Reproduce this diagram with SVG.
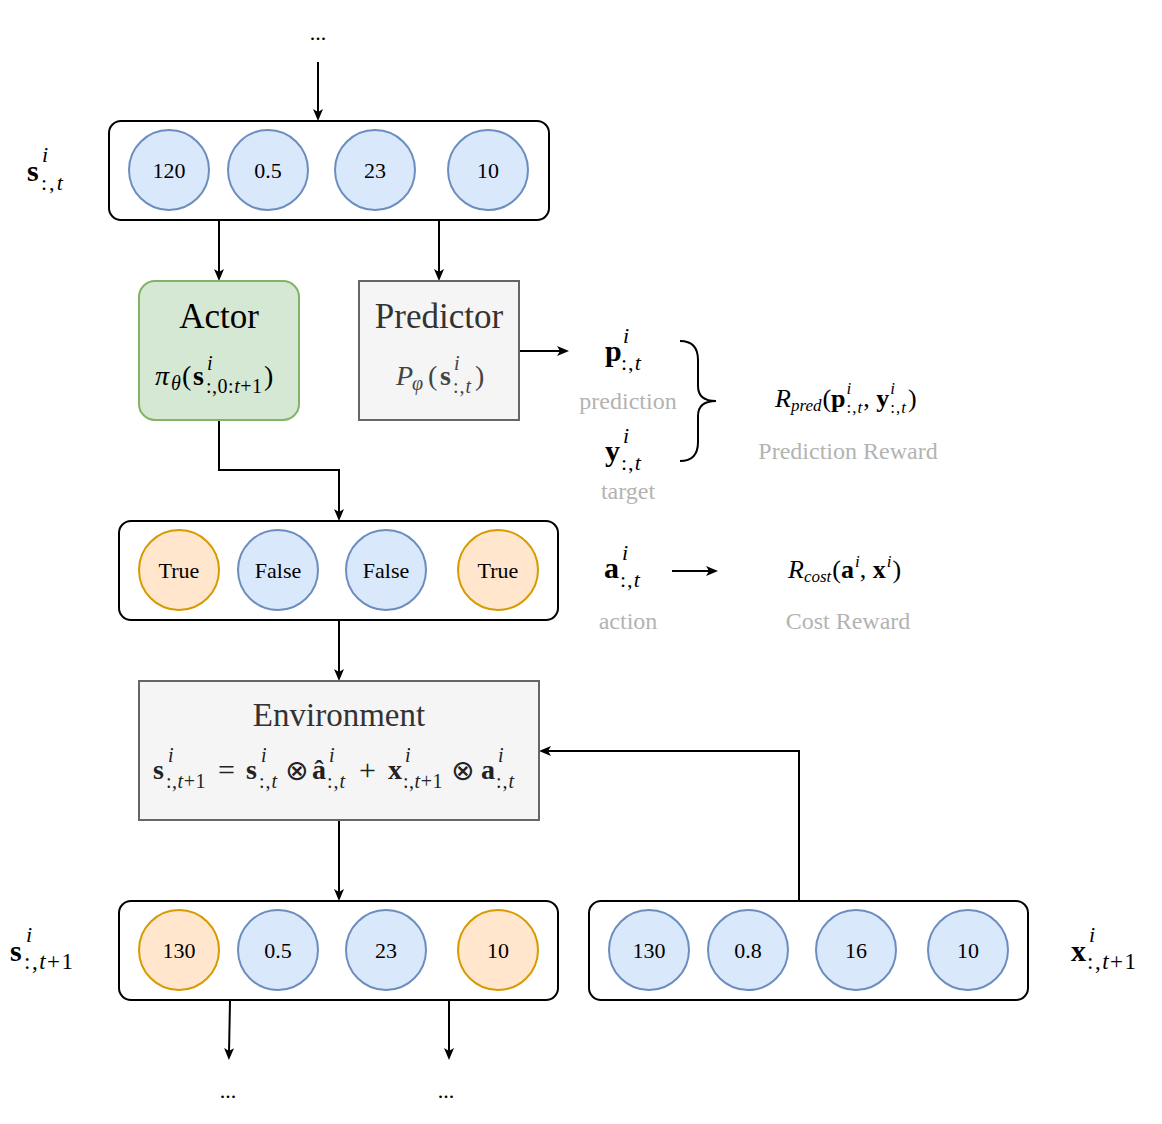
<svg xmlns="http://www.w3.org/2000/svg" width="1162" height="1124" viewBox="0 0 1162 1124">
<defs>
<style>
text{font-family:"Liberation Serif","Times New Roman",serif;}
.box{fill:#fff;stroke:#000;stroke-width:2}
.cb{fill:#dae8fc;stroke:#6c8ebf;stroke-width:2}
.co{fill:#ffe6cc;stroke:#d79b00;stroke-width:2}
.num{font-size:22px;text-anchor:middle;fill:#000}
.gray{font-size:24px;text-anchor:middle;fill:#b3b3b3}
.edge{stroke:#000;stroke-width:2;fill:none;marker-end:url(#arr)}
.b{font-weight:bold}
.i{font-style:italic}
.M{font-size:30px}
.S{font-size:22px;letter-spacing:1px}
.m28{font-size:28px}
.s20{font-size:20px;letter-spacing:0.5px}
.op{font-family:"DejaVu Sans",sans-serif;font-size:28px}
</style>
<marker id="arr" viewBox="0 0 12 10" refX="5" refY="5" markerWidth="12" markerHeight="10" markerUnits="userSpaceOnUse" orient="auto">
<path d="M0,0 L12,5 L0,10 L3,5 Z" fill="#000"/>
</marker>
</defs>

<g id="connectors">
<path class="edge" d="M318,62 V114"/>
<path class="edge" d="M219,221 V274"/>
<path class="edge" d="M439,221 V274"/>
<path class="edge" d="M520,351 H562"/>
<path class="edge" d="M219,421 V470 H339 V514"/>
<path class="edge" d="M339,621 V674"/>
<path class="edge" d="M339,821 V894"/>
<path class="edge" d="M799,901 V751 H546"/>
<path class="edge" d="M230,1001 L229,1053"/>
<path class="edge" d="M449,1001 V1053"/>
<path class="edge" d="M672,571 H711"/>
<path d="M680,341 Q698,341 698,360 L698,386 Q698,401 716,401 Q698,401 698,416 L698,442 Q698,461 680,461" fill="none" stroke="#000" stroke-width="2"/>
</g>

<g id="dots-top"><text x="318" y="40" class="num" font-size="18">...</text></g>

<g id="state-t">
<rect class="box" x="109" y="121" width="440" height="99" rx="12"/>
<circle class="cb" cx="169" cy="170" r="40"/><text class="num" x="169" y="178">120</text>
<circle class="cb" cx="268" cy="170" r="40"/><text class="num" x="268" y="178">0.5</text>
<circle class="cb" cx="375" cy="170" r="40"/><text class="num" x="375" y="178">23</text>
<circle class="cb" cx="488" cy="170" r="40"/><text class="num" x="488" y="178">10</text>
</g>
<g id="label-s-t">
<text class="M b" x="27" y="181">s</text>
<text class="S i" x="42" y="162">i</text>
<text class="S" x="41" y="190" style="letter-spacing:2px">:,<tspan class="i">t</tspan></text>
</g>

<g id="actor">
<rect x="139" y="281" width="160" height="139" rx="16" fill="#d5e8d4" stroke="#82b366" stroke-width="2"/>
<text x="219" y="328" font-size="35" text-anchor="middle">Actor</text>
<text class="m28 i" x="155" y="385">π</text>
<text class="s20 i" x="171" y="390">θ</text>
<text class="m28" x="182" y="385">(</text>
<text class="m28 b" x="193" y="385">s</text>
<text class="s20 i" x="207" y="370">i</text>
<text class="s20" x="206" y="393">:,0:<tspan class="i">t</tspan>+1</text>
<text class="m28" x="264" y="385">)</text>
</g>

<g id="predictor">
<rect x="359" y="281" width="160" height="139" fill="#f5f5f5" stroke="#666" stroke-width="2"/>
<text x="439" y="328" font-size="35" text-anchor="middle" fill="#333">Predictor</text>
<g fill="#444">
<text class="m28 i" x="396" y="385">P</text>
<text class="s20 i" x="412" y="390">φ</text>
<text class="m28" x="428" y="385">(</text>
<text class="m28 b" x="440" y="385">s</text>
<text class="s20 i" x="454" y="370">i</text>
<text class="s20" x="453" y="393" style="letter-spacing:1px">:,<tspan class="i">t</tspan></text>
<text class="m28" x="475" y="385">)</text>
</g>
</g>

<g id="pred-labels">
<text class="M b" x="605" y="361">p</text>
<text class="S i" x="623" y="343">i</text>
<text class="S" x="621" y="370">:,<tspan class="i">t</tspan></text>
<text class="gray" x="628" y="409">prediction</text>
<text class="M b" x="605" y="461">y</text>
<text class="S i" x="623" y="443">i</text>
<text class="S" x="621" y="470">:,<tspan class="i">t</tspan></text>
<text class="gray" x="628" y="499">target</text>
<text x="775" y="407" font-size="26"><tspan class="i">R</tspan><tspan class="i" font-size="17" dy="4">pred</tspan><tspan dy="-4" dx="1">(</tspan><tspan class="b">p</tspan><tspan class="i" font-size="17" dy="-13" dx="1">i</tspan><tspan font-size="17" dx="-4.7" dy="19" letter-spacing="1">:,<tspan class="i">t</tspan></tspan><tspan dy="-6">, </tspan><tspan class="b">y</tspan><tspan class="i" font-size="17" dy="-13" dx="1">i</tspan><tspan font-size="17" dx="-4.7" dy="19" letter-spacing="1">:,<tspan class="i">t</tspan></tspan><tspan dy="-6" dx="1">)</tspan></text>
<text class="gray" x="848" y="459">Prediction Reward</text>
</g>

<g id="action">
<rect class="box" x="119" y="521" width="439" height="99" rx="12"/>
<circle class="co" cx="179" cy="570" r="40"/><text class="num" x="179" y="578">True</text>
<circle class="cb" cx="278" cy="570" r="40"/><text class="num" x="278" y="578">False</text>
<circle class="cb" cx="386" cy="570" r="40"/><text class="num" x="386" y="578">False</text>
<circle class="co" cx="498" cy="570" r="40"/><text class="num" x="498" y="578">True</text>
</g>

<g id="cost-labels">
<text class="M b" x="604" y="578">a</text>
<text class="S i" x="622" y="560">i</text>
<text class="S" x="620" y="587">:,<tspan class="i">t</tspan></text>
<text class="gray" x="628" y="629">action</text>
<text x="788" y="578" font-size="26"><tspan class="i">R</tspan><tspan class="i" font-size="17" dy="4">cost</tspan><tspan dy="-4" dx="1">(</tspan><tspan class="b">a</tspan><tspan class="i" font-size="17" dy="-11" dx="1">i</tspan><tspan dy="11">, </tspan><tspan class="b">x</tspan><tspan class="i" font-size="17" dy="-11" dx="1">i</tspan><tspan dy="11" dx="1">)</tspan></text>
<text class="gray" x="848" y="629">Cost Reward</text>
</g>

<g id="environment">
<rect x="139" y="681" width="400" height="139" fill="#f5f5f5" stroke="#666" stroke-width="2"/>
<text x="339" y="726" font-size="33" text-anchor="middle" fill="#333">Environment</text>
<g fill="#222">
<text class="m28 b" x="153" y="779">s</text>
<text class="s20 i" x="168" y="762">i</text>
<text class="s20" x="166" y="788">:,<tspan class="i">t</tspan>+1</text>
<text font-size="30" x="218" y="780">=</text>
<text class="m28 b" x="246" y="779">s</text>
<text class="s20 i" x="261" y="762">i</text>
<text class="s20" x="259" y="788" style="letter-spacing:1px">:,<tspan class="i">t</tspan></text>
<text class="op" x="285" y="780">⊗</text>
<text class="m28 b" x="312" y="779">â</text>
<text class="s20 i" x="329" y="762">i</text>
<text class="s20" x="327" y="788" style="letter-spacing:1px">:,<tspan class="i">t</tspan></text>
<text font-size="30" x="359" y="780">+</text>
<text class="m28 b" x="388" y="779">x</text>
<text class="s20 i" x="405" y="762">i</text>
<text class="s20" x="403" y="788">:,<tspan class="i">t</tspan>+1</text>
<text class="op" x="451" y="780">⊗</text>
<text class="m28 b" x="481" y="779">a</text>
<text class="s20 i" x="498" y="762">i</text>
<text class="s20" x="496" y="788" style="letter-spacing:1px">:,<tspan class="i">t</tspan></text>
</g>
</g>

<g id="state-t1">
<rect class="box" x="119" y="901" width="439" height="99" rx="12"/>
<circle class="co" cx="179" cy="950" r="40"/><text class="num" x="179" y="958">130</text>
<circle class="cb" cx="278" cy="950" r="40"/><text class="num" x="278" y="958">0.5</text>
<circle class="cb" cx="386" cy="950" r="40"/><text class="num" x="386" y="958">23</text>
<circle class="co" cx="498" cy="950" r="40"/><text class="num" x="498" y="958">10</text>
</g>
<g id="label-s-t1">
<text class="M b" x="10" y="961">s</text>
<text class="S i" x="26" y="942">i</text>
<text class="S" x="24" y="969" style="font-size:23px;letter-spacing:1.5px">:,<tspan class="i">t</tspan>+1</text>
</g>

<g id="exo-t1">
<rect class="box" x="589" y="901" width="439" height="99" rx="12"/>
<circle class="cb" cx="649" cy="950" r="40"/><text class="num" x="649" y="958">130</text>
<circle class="cb" cx="748" cy="950" r="40"/><text class="num" x="748" y="958">0.8</text>
<circle class="cb" cx="856" cy="950" r="40"/><text class="num" x="856" y="958">16</text>
<circle class="cb" cx="968" cy="950" r="40"/><text class="num" x="968" y="958">10</text>
</g>
<g id="label-x-t1">
<text class="M b" x="1071" y="961">x</text>
<text class="S i" x="1089" y="942">i</text>
<text class="S" x="1087" y="969" style="font-size:23px;letter-spacing:1.5px">:,<tspan class="i">t</tspan>+1</text>
</g>

<g id="dots-bottom">
<text x="228" y="1098" class="num" font-size="18">...</text>
<text x="446" y="1098" class="num" font-size="18">...</text>
</g>
</svg>
